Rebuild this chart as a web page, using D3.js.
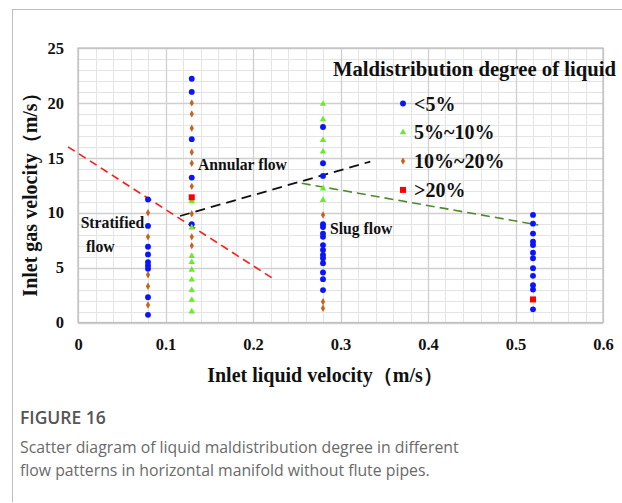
<!DOCTYPE html>
<html><head><meta charset="utf-8">
<script src="https://cdn.jsdelivr.net/npm/d3@7"></script>
<style>body{margin:0;background:#fff} svg{display:block}</style>
</head><body>
<script>
// ---- data ----
const xTicks = [0, 0.1, 0.2, 0.3, 0.4, 0.5, 0.6];
const yTicks = [0, 5, 10, 15, 20, 25];
const legendTitle = "Maldistribution degree of liquid";
const legendLabels = ["<5%", "5%~10%", "10%~20%", ">20%"];

const seriesLt5 = [
  [0.08, 11.2], [0.08, 8.8], [0.08, 6.9], [0.08, 6.2], [0.08, 5.5], [0.08, 5.2], [0.08, 4.9], [0.08, 2.3], [0.08, 0.7],
  [0.13, 22.2], [0.13, 21.0], [0.13, 16.7], [0.13, 13.2], [0.13, 8.95],
  [0.28, 17.8], [0.28, 14.5], [0.28, 13.35], [0.28, 8.95], [0.28, 8.7], [0.28, 8.1], [0.28, 7.8], [0.28, 7.05],
  [0.28, 6.6], [0.28, 6.15], [0.28, 5.85], [0.28, 5.4], [0.28, 4.55], [0.28, 3.95], [0.28, 2.95],
  [0.52, 9.8], [0.52, 9.0], [0.52, 8.1], [0.52, 7.35], [0.52, 7.05], [0.52, 6.35], [0.52, 5.85],
  [0.52, 4.95], [0.52, 4.25], [0.52, 3.4], [0.52, 3.0], [0.52, 1.2]
];
const series5to10 = [
  [0.13, 11.05], [0.13, 8.65], [0.13, 6.05], [0.13, 5.5], [0.13, 4.8], [0.13, 3.9], [0.13, 2.95], [0.13, 2.05], [0.13, 1.0],
  [0.28, 19.9], [0.28, 18.5], [0.28, 16.6], [0.28, 15.55], [0.28, 12.2], [0.28, 11.15]
];
const series10to20 = [
  [0.08, 10.0], [0.08, 7.8], [0.08, 4.35], [0.08, 3.3], [0.08, 1.6],
  [0.13, 20.0], [0.13, 19.0], [0.13, 17.7], [0.13, 15.5], [0.13, 14.5], [0.13, 12.4], [0.13, 9.9], [0.13, 7.8], [0.13, 7.0],
  [0.28, 9.8], [0.28, 1.9], [0.28, 1.3]
];
const seriesGt20 = [[0.13, 11.4], [0.52, 2.1]];

const lineStratified = [[-0.0114, 16.0], [0.222, 4.05]];
const lineAnnular = [[0.1166, 9.7], [0.334, 14.65]];
const lineSlug = [[0.2557, 12.68], [0.526, 8.88]];

const flowLabels = [
  {text: "Annular flow", x: 0.137, y: 13.85},
  {text: "Stratified", x: 0.003, y: 8.6},
  {text: "flow", x: 0.009, y: 6.4},
  {text: "Slug flow", x: 0.288, y: 8.1}
];

// ---- drawing ----
const W = 622, H = 503;
const svg = d3.select("body").append("svg").attr("width", W).attr("height", H);
const serif = "'Liberation Serif','Times New Roman',serif";

// card frame
svg.append("line").attr("x1", 12).attr("y1", 9.5).attr("x2", W).attr("y2", 9.5).attr("stroke", "#bdbdbd");
svg.append("line").attr("x1", 12.5).attr("y1", 9).attr("x2", 12.5).attr("y2", 502).attr("stroke", "#bdbdbd");

const x = d3.scaleLinear().domain([0, 0.6]).range([78, 603]);
const y = d3.scaleLinear().domain([0, 25]).range([322.5, 48]);

const g = svg.append("g");
// minor grid
g.selectAll("line.mx").data(d3.range(0, 31).map(i => i * 0.02)).join("line")
  .attr("x1", d => Math.round(x(d)) + 0.5).attr("x2", d => Math.round(x(d)) + 0.5)
  .attr("y1", y(0)).attr("y2", y(25)).attr("stroke", "#e4e4e4").attr("stroke-width", 1);
g.selectAll("line.my").data(d3.range(0, 26)).join("line")
  .attr("y1", d => Math.round(y(d)) + 0.5).attr("y2", d => Math.round(y(d)) + 0.5)
  .attr("x1", x(0)).attr("x2", x(0.6)).attr("stroke", "#e4e4e4").attr("stroke-width", 1);
// major grid
g.selectAll("line.Mx").data(xTicks).join("line")
  .attr("x1", d => Math.round(x(d)) + 0.5).attr("x2", d => Math.round(x(d)) + 0.5)
  .attr("y1", y(0)).attr("y2", y(25)).attr("stroke", "#cfcfcf").attr("stroke-width", 1.3);
g.selectAll("line.My").data(yTicks).join("line")
  .attr("y1", d => Math.round(y(d)) + 0.5).attr("y2", d => Math.round(y(d)) + 0.5)
  .attr("x1", x(0)).attr("x2", x(0.6)).attr("stroke", "#cfcfcf").attr("stroke-width", 1.3);
// plot border
svg.append("rect").attr("x", x(0)).attr("y", y(25)).attr("width", x(0.6) - x(0)).attr("height", y(0) - y(25))
  .attr("fill", "none").attr("stroke", "#bfbfbf").attr("stroke-width", 1.2);

// axes
const xAxis = svg.append("g").attr("transform", `translate(0,${y(0)})`)
  .call(d3.axisBottom(x).tickValues(xTicks).tickSize(0).tickPadding(16).tickFormat(d => d === 0 ? "0" : d3.format(".1f")(d)));
const yAxis = svg.append("g").attr("transform", `translate(${x(0)},0)`)
  .call(d3.axisLeft(y).tickValues(yTicks).tickSize(0).tickPadding(14).tickFormat(d3.format("d")));
[xAxis, yAxis].forEach(a => {
  a.select(".domain").remove();
  a.selectAll("text").attr("font-family", serif).attr("font-weight", "bold").attr("font-size", 16.5).attr("fill", "#111");
});

// axis titles
svg.append("text").attr("x", 325).attr("y", 382).attr("text-anchor", "middle")
  .attr("font-family", serif).attr("font-weight", "bold").attr("font-size", 20).attr("fill", "#111")
  .text("Inlet liquid velocity（m/s）");
svg.append("text").attr("transform", "translate(37,190) rotate(-90)").attr("text-anchor", "middle")
  .attr("font-family", serif).attr("font-weight", "bold").attr("font-size", 20).attr("fill", "#111")
  .text("Inlet gas velocity（m/s）");

// boundary lines
const line = d3.line().x(d => x(d[0])).y(d => y(d[1]));
svg.append("path").attr("d", line(lineStratified)).attr("stroke", "#ff1a1a").attr("stroke-width", 1.6)
  .attr("stroke-dasharray", "8,5").attr("fill", "none");
svg.append("path").attr("d", line(lineAnnular)).attr("stroke", "#111").attr("stroke-width", 1.8)
  .attr("stroke-dasharray", "10,6").attr("fill", "none");
svg.append("path").attr("d", line(lineSlug)).attr("stroke", "#4e8a2e").attr("stroke-width", 1.6)
  .attr("stroke-dasharray", "9,5").attr("fill", "none");

// flow labels
svg.selectAll("text.flow").data(flowLabels).join("text")
  .attr("x", d => x(d.x)).attr("y", d => y(d.y))
  .attr("font-family", serif).attr("font-weight", "bold").attr("font-size", 15.7).attr("fill", "#111")
  .text(d => d.text);

// markers
const styles = [
  {data: seriesLt5, type: d3.symbolCircle, size: 27, color: "#0a14ff"},
  {data: series5to10, type: d3.symbolTriangle, size: 18, color: "#66ee22"},
  {data: series10to20, type: d3.symbolDiamond, size: 16, color: "#c8631e"},
  {data: seriesGt20, type: d3.symbolSquare, size: 36, color: "#ff0000"}
];
styles.forEach(s => {
  svg.append("g").selectAll("path").data(s.data).join("path")
    .attr("transform", d => `translate(${x(d[0])},${y(d[1])})`)
    .attr("d", d3.symbol().type(s.type).size(s.size)()).attr("fill", s.color);
});

// legend
svg.append("text").attr("x", 333).attr("y", 76).attr("font-family", serif).attr("font-weight", "bold")
  .attr("font-size", 20.7).attr("fill", "#111").text(legendTitle);
const lg = svg.append("g");
legendLabels.forEach((lab, i) => {
  const cy = 103.5 + i * 28.8;
  const s = styles[i];
  lg.append("path").attr("transform", `translate(403,${cy})`).attr("d", d3.symbol().type(s.type).size(s.size)()).attr("fill", s.color);
  lg.append("text").attr("x", 414).attr("y", cy + 7).attr("font-family", serif).attr("font-weight", "bold")
    .attr("font-size", 20).attr("fill", "#111").text(lab);
});

// caption
const sans = "'Open Sans', Lato, sans-serif";
svg.append("text").attr("x", 20).attr("y", 424).attr("font-family", sans).attr("font-weight", 600)
  .attr("font-size", 17.5).attr("fill", "#555").text("FIGURE 16");
svg.append("text").attr("x", 20).attr("y", 453).attr("font-family", sans)
  .attr("font-size", 15.8).attr("fill", "#6a6a6a").text("Scatter diagram of liquid maldistribution degree in different");
svg.append("text").attr("x", 20).attr("y", 476).attr("font-family", sans)
  .attr("font-size", 15.8).attr("fill", "#6a6a6a").text("flow patterns in horizontal manifold without flute pipes.");
</script>
</body></html>
